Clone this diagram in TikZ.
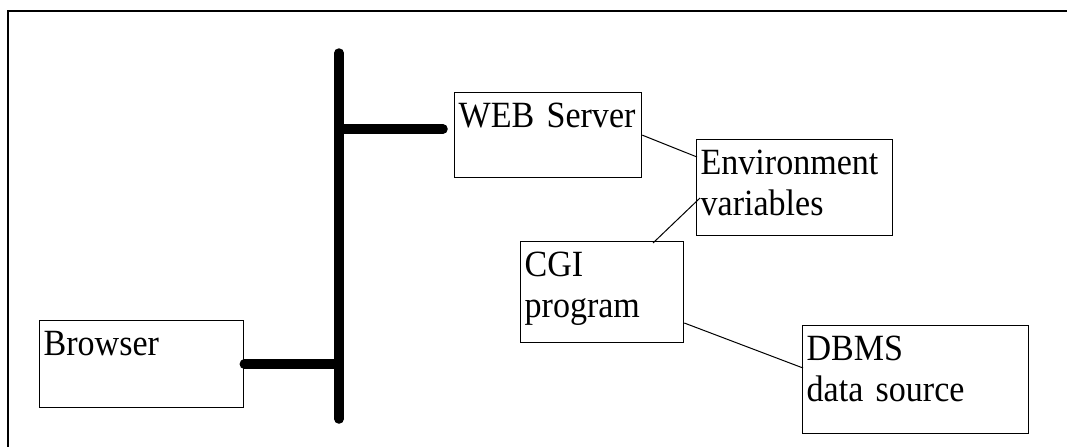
\documentclass[tikz,border=0pt]{standalone}
\usepackage{fontspec}
\setmainfont{Liberation Serif}[FakeStretch=0.92]
\usetikzlibrary{calc}
\begin{document}
\begin{tikzpicture}[x=0.5pt,y=-0.5pt,
  box/.style={draw=black, line width=0.65pt, rectangle, anchor=north west,
    inner xsep=2pt, inner ysep=0pt, align=left,
    font=\fontsize{18.5pt}{20.5pt}\selectfont, text height=17.5pt},
  bus/.style={line width=4.75pt, line cap=round},
  link/.style={line width=0.5pt},
  frame/.style={line width=1pt}]
\clip (0,0) rectangle (1067,446);
% frame (runs off the right and bottom)
\coordinate (fbl) at (8,460);
\coordinate (ftl) at (8,11);
\coordinate (ftr) at (1080,11);
\draw[frame] (fbl) -- (ftl) -- (ftr);
% boxes
\node[box, text width=89.5pt, text depth=25pt] (web) at (454,92) {WEB~Server};
\node[box, text width=94pt, text depth=30.5pt] (env) at (696,139) {Environment\\variables};
\node[box, text width=77.5pt, text depth=33pt] (cgi) at (520,241) {CGI\\program};
\node[box, text width=109pt, text depth=36.5pt] (dbms) at (802,325) {DBMS\\data~source};
\node[box, text width=98pt, text depth=26pt] (browser) at (39,320) {Browser};
% bus
\coordinate (bustop) at (339,53);
\coordinate (busbot) at (339,419);
\draw[bus] (bustop) -- (busbot);
\coordinate (webend) at ($(web.north west)+(-11,37)$);
\draw[bus] (webend) -- (webend -| bustop);
\draw[bus] (browser.east) -- (browser.east -| bustop);
% thin links
\draw[link] (web.east) -- ($(env.north west)+(1,18)$);
\draw[link] ($(env.north west)+(4,59)$) -- ($(cgi.north west)+(133,2)$);
\draw[link] ($(cgi.north east)+(0,82)$) -- ($(dbms.north west)+(1,43)$);
\end{tikzpicture}
\end{document}
